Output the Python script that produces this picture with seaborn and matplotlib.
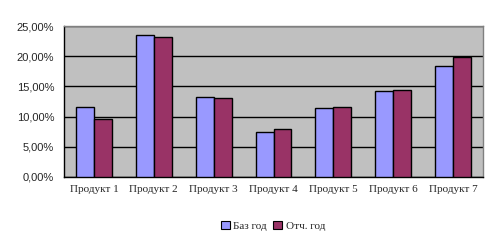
import matplotlib
matplotlib.use("Agg")
import matplotlib.pyplot as plt
import seaborn as sns
import pandas as pd
from matplotlib.ticker import FuncFormatter, FixedLocator
from matplotlib.patches import Patch

categories = ["Продукт 1", "Продукт 2", "Продукт 3", "Продукт 4", "Продукт 5", "Продукт 6", "Продукт 7"]
base_year = [11.55, 23.45, 13.3, 7.4, 11.35, 14.2, 18.35]
report_year = [9.55, 23.1, 13.0, 7.9, 11.55, 14.35, 19.95]
series_names = ["Баз год", "Отч. год"]
colors = ["#9999FF", "#993366"]

df = pd.DataFrame({
    "cat": categories * 2,
    "val": base_year + report_year,
    "series": [series_names[0]] * len(categories) + [series_names[1]] * len(categories),
})

sns.set_style("white")
plt.rcParams['font.family'] = ['Liberation Sans', 'DejaVu Sans']

fig = plt.figure(figsize=(4.99, 2.45), dpi=100)
ax = fig.add_axes([64/499, 1-177/245, (483-64)/499, (177-26)/245])
ax.set_facecolor("#C0C0C0")

sns.barplot(data=df, x="cat", y="val", hue="series", palette=colors, width=0.6,
            edgecolor="black", linewidth=1.0, saturation=1, ax=ax, legend=False, zorder=3)

ax.set_ylim(0, 25)
ax.set_xlim(-0.5, 6.5)
ax.yaxis.set_major_locator(FixedLocator([0, 5, 10, 15, 20, 25]))
ax.yaxis.set_major_formatter(FuncFormatter(lambda v, p: f"{v:.2f}%".replace(".", ",")))
ax.grid(axis="y", color="black", linewidth=1.0, zorder=1)
ax.set_axisbelow(True)
ax.set_xlabel("")
ax.set_ylabel("")

ax.set_xticks(range(len(categories)))
ax.set_xticklabels(categories, fontsize=8, family=['Liberation Serif', 'DejaVu Serif'])
ax.tick_params(axis="x", length=0, pad=6)
ax.set_xticks([i + 0.5 for i in range(-1, len(categories))], minor=True)
ax.tick_params(axis="x", which="minor", length=4, width=1, color="black", direction="out")
ax.tick_params(axis="y", length=4, width=1, color="black", direction="out", labelsize=8, pad=3)

for s in ["left", "bottom"]:
    ax.spines[s].set_color("black")
    ax.spines[s].set_linewidth(1.0)
for s in ["top", "right"]:
    ax.spines[s].set_color("#808080")
    ax.spines[s].set_linewidth(1.0)

handles = [Patch(facecolor=c, edgecolor="black", linewidth=0.8) for c in colors]
fig.legend(handles, series_names, loc="center", bbox_to_anchor=(273/499, 1-226/245),
           ncol=2, frameon=False, prop={'family': ['Liberation Serif', 'DejaVu Serif'], 'size': 8},
           handlelength=0.8, handleheight=0.8, handletextpad=0.3, columnspacing=0.6)

fig.savefig("out.png", dpi=100, facecolor="white")
